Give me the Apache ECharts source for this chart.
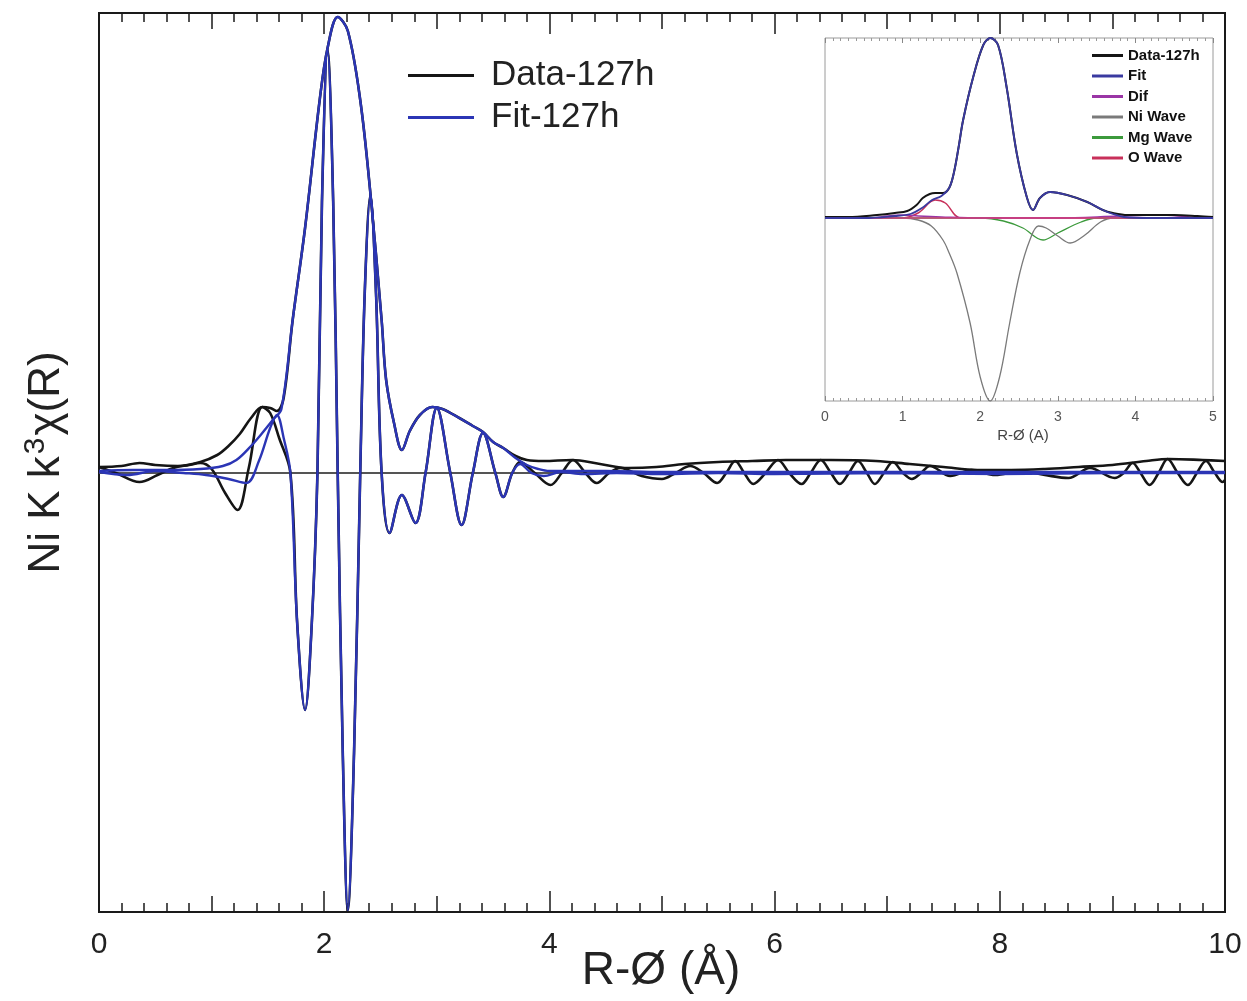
<!DOCTYPE html>
<html><head><meta charset="utf-8">
<script src="https://cdn.jsdelivr.net/npm/echarts/dist/echarts.min.js"></script>
<style>html,body{margin:0;padding:0;background:#fff}#c{width:1247px;height:1001px}</style>
</head><body><div id="c"></div>
<script>
// ---- main chart data: [R (Å), signal (arb.)] ----
const dataReal = [[0.00,0.06],[0.15,0.0],[0.36,-0.09],[0.52,-0.02],[0.66,0.05],[0.80,0.08],[0.90,0.10],[1.0,0.04],[1.12,-0.2],[1.23,-0.37],[1.33,0.05],[1.45,0.66],[1.52,0.60],[1.60,0.35],[1.70,0.0],[1.76,-1.5],[1.83,-2.37],[1.89,-1.5],[1.94,0.0],[1.98,2.7],[2.03,4.23],[2.08,2.7],[2.12,0.0],[2.165,-2.8],[2.21,-4.37],[2.265,-2.8],[2.32,0.0],[2.36,1.8],[2.41,2.78],[2.46,1.8],[2.51,0.0],[2.58,-0.60],[2.69,-0.22],[2.81,-0.50],[2.90,0.0],[3.00,0.65],[3.12,0.0],[3.22,-0.52],[3.32,0.0],[3.41,0.40],[3.52,0.0],[3.59,-0.24],[3.67,0.0],[3.74,0.11],[3.87,0.0],[4.01,-0.12],[4.11,0.0],[4.21,0.13],[4.32,0.0],[4.42,-0.10],[4.53,0.0],[4.63,0.05],[4.82,-0.03],[5.00,-0.06],[5.12,0.0],[5.25,0.07],[5.37,0.0],[5.49,-0.10],[5.57,0.0],[5.65,0.12],[5.73,0.0],[5.81,-0.11],[5.92,0.0],[6.03,0.13],[6.13,0.0],[6.24,-0.11],[6.32,0],[6.41,0.13],[6.50,0],[6.58,-0.11],[6.66,0],[6.74,0.12],[6.82,0],[6.89,-0.11],[6.97,0],[7.05,0.11],[7.14,0],[7.22,-0.06],[7.30,0],[7.38,0.07],[7.56,-0.03],[7.75,0.03],[7.96,-0.02],[8.18,0.02],[8.40,-0.02],[8.61,-0.05],[8.80,0.05],[9.02,-0.05],[9.10,0],[9.18,0.10],[9.25,0],[9.33,-0.12],[9.41,0],[9.49,0.14],[9.58,0],[9.67,-0.12],[9.75,0],[9.83,0.12],[9.91,0],[9.98,-0.09],[10,-0.07]];
const dataMag = [[0,0.06],[0.2,0.07],[0.36,0.10],[0.5,0.08],[0.7,0.07],[0.9,0.11],[1.05,0.18],[1.15,0.27],[1.25,0.39],[1.35,0.55],[1.45,0.66],[1.52,0.65],[1.58,0.62],[1.64,0.75],[1.72,1.53],[1.83,2.45],[1.96,3.73],[2.03,4.25],[2.12,4.56],[2.21,4.42],[2.32,3.73],[2.41,2.8],[2.51,1.53],[2.55,0.93],[2.62,0.5],[2.69,0.23],[2.76,0.42],[2.85,0.58],[2.96,0.66],[3.05,0.64],[3.2,0.55],[3.32,0.47],[3.41,0.41],[3.5,0.31],[3.59,0.25],[3.7,0.17],[3.8,0.13],[3.95,0.12],[4.2,0.13],[4.45,0.09],[4.7,0.05],[4.95,0.06],[5.2,0.09],[5.5,0.11],[5.8,0.12],[6.1,0.13],[6.5,0.13],[6.9,0.12],[7.2,0.09],[7.5,0.06],[7.8,0.03],[8.1,0.03],[8.4,0.04],[8.7,0.06],[9.0,0.08],[9.3,0.12],[9.5,0.14],[9.8,0.13],[10,0.12]];
const fitReal = [[0,0.01],[0.25,-0.02],[0.5,0.02],[0.75,0.0],[0.95,-0.02],[1.15,-0.06],[1.31,-0.10],[1.42,0.12],[1.52,0.45],[1.58,0.58],[1.64,0.35],[1.70,0.0],[1.76,-1.5],[1.83,-2.37],[1.89,-1.5],[1.94,0.0],[1.98,2.7],[2.03,4.23],[2.08,2.7],[2.12,0.0],[2.165,-2.8],[2.21,-4.37],[2.265,-2.8],[2.32,0.0],[2.36,1.8],[2.41,2.78],[2.46,1.8],[2.51,0.0],[2.58,-0.60],[2.69,-0.22],[2.81,-0.50],[2.90,0.0],[3.00,0.65],[3.12,0.0],[3.22,-0.52],[3.32,0.0],[3.41,0.40],[3.52,0.0],[3.59,-0.24],[3.67,0.0],[3.74,0.09],[3.84,0.0],[3.95,-0.03],[4.1,0.01],[4.3,-0.01],[4.6,0.0],[5.0,-0.01],[5.5,0.0],[6,-0.01],[7,0],[8,-0.01],[9,0],[10,0]];
const fitMag = [[0,0.02],[0.3,0.03],[0.6,0.03],[0.9,0.04],[1.1,0.07],[1.22,0.13],[1.35,0.27],[1.45,0.40],[1.55,0.54],[1.62,0.64],[1.72,1.53],[1.83,2.45],[1.96,3.73],[2.03,4.25],[2.12,4.56],[2.21,4.42],[2.32,3.73],[2.41,2.8],[2.51,1.53],[2.55,0.93],[2.62,0.5],[2.69,0.23],[2.76,0.42],[2.85,0.58],[2.96,0.66],[3.05,0.64],[3.2,0.55],[3.32,0.47],[3.41,0.41],[3.5,0.31],[3.59,0.25],[3.7,0.15],[3.8,0.08],[3.9,0.04],[4.0,0.02],[4.5,0.02],[5.0,0.01],[6,0.01],[7,0.01],[8,0.01],[9,0.01],[10,0.01]];
const zeroLine = [[0,0],[10,0]];

// ---- inset data: [R (Å), |chi(R)| (arb.)] ----
const insetData = [[0,0.01],[0.3,0.01],[0.67,0.03],[0.9,0.05],[1.06,0.07],[1.18,0.13],[1.26,0.2],[1.35,0.24],[1.42,0.25],[1.52,0.25],[1.6,0.3],[1.66,0.45],[1.72,0.7],[1.78,0.98],[1.91,1.41],[2.04,1.73],[2.13,1.8],[2.23,1.73],[2.34,1.31],[2.47,0.65],[2.6,0.21],[2.68,0.08],[2.77,0.2],[2.9,0.26],[3.12,0.23],[3.38,0.16],[3.58,0.08],[3.71,0.05],[3.9,0.03],[4.2,0.03],[4.5,0.03],[4.8,0.02],[5,0.01]];
const insetFit = [[0,0.0],[0.5,0.0],[0.9,0.02],[1.1,0.04],[1.25,0.1],[1.38,0.18],[1.5,0.22],[1.6,0.3],[1.66,0.45],[1.72,0.7],[1.78,0.98],[1.91,1.41],[2.04,1.73],[2.13,1.8],[2.23,1.73],[2.34,1.31],[2.47,0.65],[2.6,0.21],[2.68,0.08],[2.77,0.2],[2.9,0.26],[3.12,0.23],[3.38,0.16],[3.58,0.08],[3.71,0.04],[3.85,0.01],[4.2,0.0],[5,0.0]];
const insetDif = [[0,0.0],[0.6,0.0],[0.8,0.02],[1.0,0.03],[1.2,0.02],[1.5,0.01],[2,0.0],[3,0.0],[3.8,0.02],[4.3,0.03],[4.7,0.01],[5,0.0]];
const insetNi = [[0,0],[1.0,0.0],[1.2,-0.02],[1.37,-0.08],[1.52,-0.22],[1.6,-0.35],[1.7,-0.55],[1.87,-1.05],[2.0,-1.59],[2.13,-1.83],[2.25,-1.59],[2.38,-1.05],[2.51,-0.55],[2.64,-0.22],[2.75,-0.08],[2.85,-0.1],[3.0,-0.18],[3.16,-0.25],[3.35,-0.17],[3.55,-0.04],[3.72,0],[5,0]];
const insetMg = [[0,0],[2.0,0],[2.3,-0.03],[2.55,-0.1],[2.81,-0.22],[3.0,-0.15],[3.3,-0.04],[3.5,0],[5,0]];
const insetO = [[0,0],[1.0,0],[1.2,0.05],[1.42,0.18],[1.55,0.15],[1.75,0.0],[5,0]];

const mainTicks = [0,2,4,6,8,10];
const insetTicks = [0,1,2,3,4,5];

const FONT = '"Liberation Sans", Arial, Helvetica, sans-serif';
const BLACK = '#151515', BLUE = '#2b35b5';

const chart = echarts.init(document.getElementById('c'), null, {renderer:'canvas'});
const G = {left:99, right:22, top:13, bottom:89, outerBoundsMode:'none', containLabel:false};
const IG = {left:825, top:38, width:388, height:363, outerBoundsMode:'none', containLabel:false};

function line(name, data, color, xi, width, z){
  return {name, type:'line', data, xAxisIndex:xi, yAxisIndex:xi, showSymbol:false, symbol:'none',
    smooth:0.35, lineStyle:{color, width}, itemStyle:{color}, z:z||2, silent:true, animation:false};
}
const noLine = {show:false, onZero:false};

const option = {
  animation:false,
  backgroundColor:'#fff',
  graphic:[
    {type:'text', x:661, y:971, silent:true, style:{text:'R-Ø (Å)', font:'46px "Liberation Sans", Arial, sans-serif', fill:'#222', align:'center', verticalAlign:'middle'}}
  ],
  grid:[
    Object.assign({show:true, borderColor:'#1a1a1a', borderWidth:2, backgroundColor:'transparent'}, G),
    Object.assign({show:false}, G),
    Object.assign({show:true, borderColor:'#9a9a9a', borderWidth:1, backgroundColor:'#fff', z:5}, IG)
  ],
  legend:[
    {data:['Data-127h','Fit-127h'], orient:'vertical', left:403, top:53, icon:'rect', itemWidth:66, itemHeight:3, itemGap:7,
     textStyle:{fontFamily:FONT, fontSize:35, color:'#222', padding:[0,0,0,12]}},
    {data:['Data-127h ','Fit','Dif','Ni Wave','Mg Wave','O Wave'], orient:'vertical', left:1087, top:43, icon:'rect', itemWidth:31, itemHeight:3, itemGap:5.5,
     textStyle:{fontFamily:FONT, fontSize:15, fontWeight:'bold', color:'#111', padding:[0,0,0,0]}, z:10}
  ],
  xAxis:[
    {gridIndex:0, type:'value', min:0, max:10, interval:1, position:'bottom',
     axisLine:noLine, splitLine:{show:false},
     axisTick:{show:true, inside:true, length:16, lineStyle:{color:'#1a1a1a', width:1.5}},
     minorTick:{show:true, splitNumber:5, length:9, lineStyle:{color:'#1a1a1a', width:1.5}},
     axisLabel:{margin:18, fontFamily:FONT, fontSize:30, color:'#222', formatter:v=>mainTicks.includes(v)?String(v):''}},
    {gridIndex:0, type:'value', min:0, max:10, interval:1, position:'top',
     axisLine:noLine, splitLine:{show:false}, axisLabel:{show:false},
     axisTick:{show:true, inside:true, length:16, lineStyle:{color:'#1a1a1a', width:1.5}},
     minorTick:{show:true, splitNumber:5, length:9, lineStyle:{color:'#1a1a1a', width:1.5}}},
    {gridIndex:2, type:'value', min:0, max:5, interval:1, position:'bottom',
     axisLine:noLine, splitLine:{show:false},
     axisTick:{show:true, inside:true, length:5, lineStyle:{color:'#888', width:1}},
     minorTick:{show:true, splitNumber:10, length:3, lineStyle:{color:'#999', width:1}},
     axisLabel:{margin:9, fontFamily:FONT, fontSize:14, color:'#555', formatter:v=>insetTicks.includes(v)?String(v):''},
     name:'R-Ø (A)', nameLocation:'middle', nameGap:27, nameTextStyle:{fontFamily:FONT, fontSize:15, color:'#444', padding:[0,0,0,8]}, z:6},
    {gridIndex:2, type:'value', min:0, max:5, interval:1, position:'top',
     axisLine:noLine, splitLine:{show:false}, axisLabel:{show:false},
     axisTick:{show:true, inside:true, length:5, lineStyle:{color:'#888', width:1}},
     minorTick:{show:true, splitNumber:10, length:3, lineStyle:{color:'#999', width:1}}, z:6},
    {gridIndex:1, type:'value', min:0, max:10, interval:2, position:'bottom',
     axisLine:noLine, splitLine:{show:false}, axisLabel:{show:false},
     axisTick:{show:true, inside:true, length:21, lineStyle:{color:'#1a1a1a', width:1.5}}},
    {gridIndex:1, type:'value', min:0, max:10, interval:2, position:'top',
     axisLine:noLine, splitLine:{show:false}, axisLabel:{show:false},
     axisTick:{show:true, inside:true, length:21, lineStyle:{color:'#1a1a1a', width:1.5}}}
  ],
  yAxis:[
    {gridIndex:0, type:'value', min:-4.39, max:4.60, axisLine:noLine, axisTick:{show:false}, axisLabel:{show:false}, splitLine:{show:false},
     name:'{a|Ni K k}{s|3}{a|χ(R)}', nameLocation:'middle', nameGap:30, nameRotate:90,
     nameTextStyle:{fontFamily:FONT, color:'#222', rich:{a:{fontFamily:FONT, fontSize:44, color:'#222', verticalAlign:'bottom'}, s:{fontFamily:FONT, fontSize:30, color:'#222', verticalAlign:'top', padding:[0,2,18,2]}}}},
    {gridIndex:1, type:'value', min:-4.39, max:4.60, show:false},
    {gridIndex:2, type:'value', min:-1.83, max:1.80, axisLine:noLine, axisTick:{show:false}, axisLabel:{show:false}, splitLine:{show:false}},
    {gridIndex:2, type:'value', min:-1.83, max:1.80, show:false}
  ],
  series:[
    line('zero', zeroLine, '#555', 0, 2, 1),
    line('Data-127h', dataMag, BLACK, 0, 2.6),
    line('Data-127h', dataReal, BLACK, 0, 2.6),
    line('Fit-127h', fitMag, BLUE, 0, 2.4, 3),
    line('Fit-127h', fitReal, BLUE, 0, 2.4, 3),
    line('O Wave', insetO, '#c8305a', 2, 1.5, 7),
    line('Mg Wave', insetMg, '#3c9a3c', 2, 1.3, 7),
    line('Ni Wave', insetNi, '#7a7a7a', 2, 1.3, 7),
    line('Dif', insetDif, '#9a35a5', 2, 1.5, 7),
    line('Data-127h ', insetData, BLACK, 2, 2, 8),
    line('Fit', insetFit, '#3a3aa0', 2, 1.8, 8),
    line('zeroInset', [[0,0],[5,0]], '#d0407a', 2, 1.5, 7)
  ]
};
chart.setOption(option);
</script>
</body></html>
